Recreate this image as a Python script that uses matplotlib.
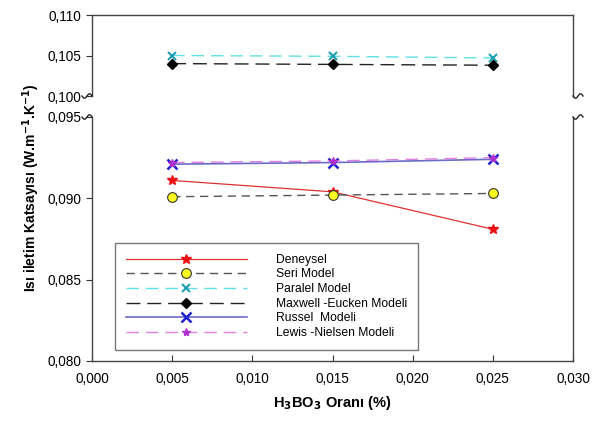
import numpy as np
import matplotlib
matplotlib.use("Agg")
import matplotlib.pyplot as plt
from matplotlib.ticker import FuncFormatter
from matplotlib.lines import Line2D

plt.rcParams['font.family'] = ['Liberation Sans', 'DejaVu Sans']

oran = [0.005, 0.015, 0.025]
deneysel = [0.0911, 0.0904, 0.0881]
seri = [0.0901, 0.0902, 0.0903]
paralel = [0.1050, 0.1049, 0.1047]
maxwell = [0.1040, 0.1039, 0.1038]
russel = [0.0921, 0.0922, 0.0924]
lewis = [0.0922, 0.0923, 0.0925]

labels = ["Deneysel", "Seri Model", "Paralel Model", "Maxwell -Eucken Modeli",
          "Russel  Modeli", "Lewis -Nielsen Modeli"]

fig = plt.figure(figsize=(5.92, 4.21), dpi=100)
ax_top = fig.add_axes([92/592, 1-96/421, 481/592, 81/421])
ax_bot = fig.add_axes([92/592, 1-361/421, 481/592, 244/421])

styles = [
    dict(color='#e03030', ls='-', lw=0.9, marker='*', ms=7, mfc='#ee1111', mec='#ee1111'),
    dict(color='#555555', ls=(0, (6, 4)), lw=1.0, marker='o', ms=7, mfc='#ffff20', mec='#333333', mew=0.8),
    dict(color='#60e0e8', ls=(0, (9, 5)), lw=1.0, marker='x', ms=6, mfc='#20a0b0', mec='#20a0b0', mew=1.5),
    dict(color='#222222', ls=(0, (10, 5)), lw=1.0, marker='D', ms=5, mfc='black', mec='black'),
    dict(color='#6a6ac8', ls='-', lw=1.2, marker='x', ms=7, mfc='#2020d0', mec='#2020d0', mew=1.8),
    dict(color='#e080e0', ls=(0, (9, 5)), lw=1.0, marker='*', ms=6, mfc='#b030d0', mec='#b030d0'),
]
series = [deneysel, seri, paralel, maxwell, russel, lewis]

handles = []
for y, st, lab in zip(series, styles, labels):
    for ax in (ax_top, ax_bot):
        h, = ax.plot(oran, y, label=lab, **st)
        if ax is ax_bot:
            handles.append(h)

fmt = FuncFormatter(lambda v, p: f"{v:.3f}".replace('.', ','))

ax_top.set_ylim(0.100, 0.110)
ax_top.set_yticks([0.100, 0.105, 0.110])
ax_bot.set_ylim(0.080, 0.095)
ax_bot.set_yticks([0.080, 0.085, 0.090, 0.095])
for ax in (ax_top, ax_bot):
    ax.set_xlim(0, 0.030)
    ax.yaxis.set_major_formatter(fmt)
    ax.tick_params(axis='y', direction='out', length=4, labelsize=9.8, color='#333333')
    for s in ax.spines.values():
        s.set_color('#444444')
        s.set_linewidth(1.0)

ax_top.spines['bottom'].set_visible(False)
ax_top.tick_params(axis='x', bottom=False, labelbottom=False)
ax_bot.spines['top'].set_visible(False)
ax_bot.set_xticks([0, 0.005, 0.010, 0.015, 0.020, 0.025, 0.030])
ax_bot.xaxis.set_major_formatter(fmt)
ax_bot.tick_params(axis='x', direction='in', length=4, labelsize=9.8, pad=8, color='#333333')

# break marks: small tilde curls at the spine ends (pixel offsets)
t = np.linspace(0, 1, 30)
curl_x = 10 * t
curl_y = 2.2 * np.sin(2 * np.pi * t)
for ax, yb in ((ax_top, 0.0), (ax_bot, 1.0)):
    for xb, side in ((0.0, -1), (1.0, 1)):
        x0, y0 = ax.transAxes.transform((xb, yb))
        fig.add_artist(Line2D(x0 + side * curl_x, y0 - side * curl_y, transform=None,
                              color='#222222', lw=1.0))

leg = ax_bot.legend(handles=handles, loc='upper left', bbox_to_anchor=(0.048, 0.484),
                    fontsize=8.7, handlelength=10.0, handletextpad=2.4, labelspacing=0.22,
                    frameon=True, fancybox=False, borderpad=0.9, borderaxespad=0)
leg.get_frame().set_edgecolor('#555555')
leg.get_frame().set_linewidth(1.0)

fig.text(0.052, 1-188/421, "Isı iletim Katsayısı (W.m$^{\\mathbf{-1}}$.K$^{\\mathbf{-1}}$)", rotation=90,
         ha='center', va='center', fontsize=10, fontweight='bold')
fig.text(332/592, 1-403/421, "H$_{\\mathbf{3}}$BO$_{\\mathbf{3}}$ Oranı (%)", ha='center', va='center',
         fontsize=10.5, fontweight='bold')

fig.savefig("out.png", dpi=100)
